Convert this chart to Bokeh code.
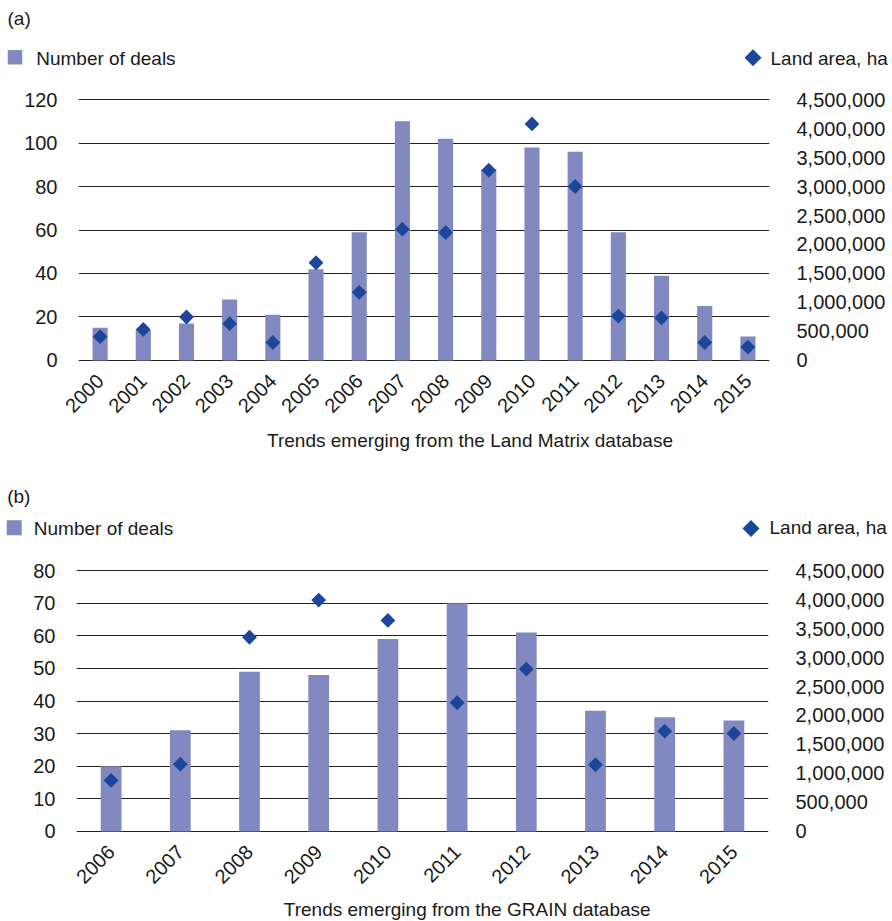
import math
from bokeh.plotting import figure
from bokeh.models import (Range1d, FactorRange, LinearAxis, FixedTicker,
                          NumeralTickFormatter)
from bokeh.core.properties import value
from bokeh.layouts import column
from bokeh.embed import file_html
from bokeh.resources import INLINE

# ---- data ----
years_a = [str(y) for y in range(2000, 2016)]
deals_a = [15, 14, 17, 28, 21, 42, 59, 110, 102, 88, 98, 96, 59, 39, 25, 11]
land_a = [410000, 535000, 750000, 635000, 310000, 1685000, 1175000, 2265000,
          2205000, 3280000, 4080000, 3000000, 765000, 735000, 310000, 230000]

years_b = [str(y) for y in range(2006, 2016)]
deals_b = [20, 31, 49, 48, 59, 70, 61, 37, 35, 34]
land_b = [880000, 1160000, 3350000, 3990000, 3640000, 2220000, 2800000,
          1150000, 1730000, 1690000]

left_ticks_a = list(range(0, 121, 20))
left_ticks_b = list(range(0, 81, 10))
right_ticks = [i * 500000 for i in range(10)]
right_max = 4500000

panel_labels = ["(a)", "(b)"]
bar_label = "Number of deals"
marker_label = "Land area, ha"
titles = ["Trends emerging from the Land Matrix database",
          "Trends emerging from the GRAIN database"]

BAR = "#8289C0"
DIA = "#1B4699"
TXT = "#1a1a1a"
FONT = "Liberation Sans"
W = 892
DY = -7  # baseline correction for text glyphs


def chart(years, deals, land, left_ticks, bar_w, H, bl, br, bt, bb):
    ymax = left_ticks[-1]
    pad = ymax * 0.004
    k = right_max / ymax
    p = figure(x_range=FactorRange(factors=years, range_padding=0),
               y_range=Range1d(-pad, ymax + pad),
               width=W, height=H, title=None,
               output_backend="svg", toolbar_location=None,
               min_border_left=bl, min_border_right=br,
               min_border_top=bt, min_border_bottom=bb,
               outline_line_color=None, frame_align=False)
    p.extra_y_ranges = {"land": Range1d(-pad * k, right_max + pad * k)}

    p.vbar(x=years, top=deals, width=bar_w, fill_color=BAR, line_color=None)
    p.scatter(x=years, y=land, y_range_name="land", marker="square",
              angle=math.pi / 4, size=10.5, fill_color=DIA, line_color=None)

    p.xgrid.grid_line_color = None
    p.ygrid.grid_line_color = "#222222"
    p.ygrid.grid_line_width = 1.2

    p.yaxis.ticker = FixedTicker(ticks=left_ticks)
    ra = LinearAxis(y_range_name="land", ticker=FixedTicker(ticks=right_ticks),
                    formatter=NumeralTickFormatter(format="0,0"))
    p.add_layout(ra, "right")
    for ax in list(p.yaxis) + list(p.xaxis):
        ax.axis_line_color = None
        ax.major_tick_line_color = None
        ax.minor_tick_line_color = None
        ax.major_label_text_font = FONT
        ax.major_label_text_font_size = "20px"
        ax.major_label_text_color = TXT
    p.yaxis[0].major_label_standoff = 15
    p.yaxis[1].major_label_standoff = 21
    p.xaxis.major_label_orientation = math.pi / 4
    p.xaxis.major_label_standoff = 10
    return p


def textband(H, texts, centered=None, sq=None, dia=None):
    p = figure(x_range=Range1d(0, W), y_range=Range1d(H, 0), width=W, height=H,
               title=None, x_axis_type=None, y_axis_type=None,
               output_backend="svg", toolbar_location=None,
               min_border=0, outline_line_color=None, frame_align=False)
    p.grid.visible = False
    style = dict(text_font=value(FONT), text_font_size="19px",
                 text_color=TXT, text_baseline="alphabetic")
    if texts:
        p.text(x=[t[0] for t in texts], y=[t[1] + DY for t in texts],
               text=[t[2] for t in texts], text_align="left", **style)
    if centered:
        p.text(x=[centered[0]], y=[centered[1] + DY], text=[centered[2]],
               text_align="center", **style)
    if sq:
        p.scatter(x=[sq[0]], y=[sq[1]], marker="square", size=sq[2],
                  fill_color=BAR, line_color=None)
    if dia:
        p.scatter(x=[dia[0]], y=[dia[1]], marker="square", size=dia[2],
                  angle=math.pi / 4, fill_color=DIA, line_color=None)
    return p


t1 = textband(86, [(7, 25, panel_labels[0]), (35.7, 65, bar_label),
                   (770, 64.5, marker_label)],
              sq=(14.5, 56.7, 14.5), dia=(752.5, 57.3, 12))
c1 = chart(years_a, deals_a, land_a, left_ticks_a, 0.35, 337, 78, 123, 12, 62)
t2 = textband(134, [(6.7, 80, panel_labels[1]), (33.3, 112, bar_label),
                    (769, 111.3, marker_label)],
              centered=(469.5, 23.7, titles[0]),
              sq=(13.7, 104.2, 15), dia=(750.5, 105, 12))
c2 = chart(years_b, deals_b, land_b, left_ticks_b, 0.30, 335, 76, 124, 12, 60)
t3 = textband(29, [], centered=(466.7, 23.7, titles[1]))

layout = column(t1, c1, t2, c2, t3, spacing=0)
open("out.html", "w").write(file_html(layout, INLINE))
